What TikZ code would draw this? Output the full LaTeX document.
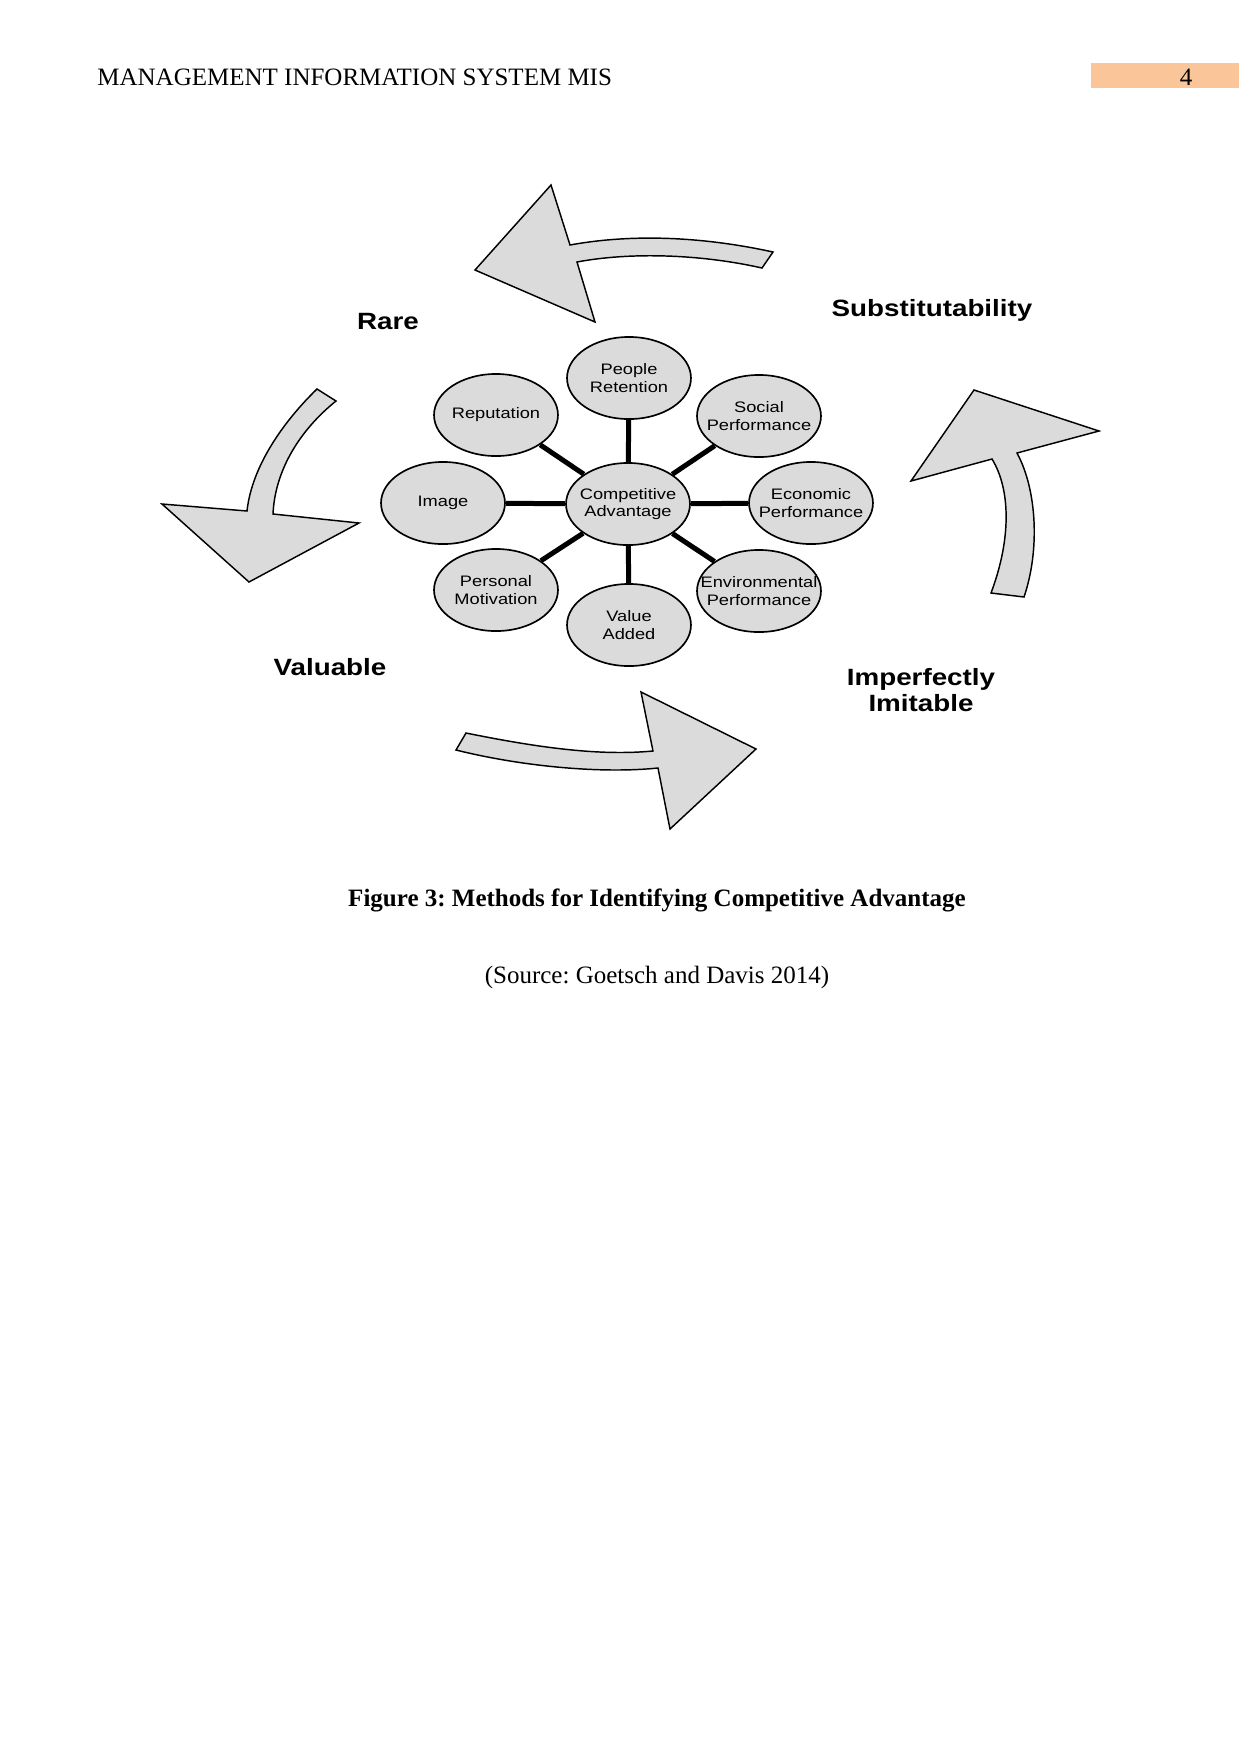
\documentclass[tikz,border=0pt]{standalone}
\usepackage{fontspec}
\setmainfont{Liberation Serif}
\newfontfamily\ellfont[FakeStretch=1.2]{Liberation Sans}
\newfontfamily\lblfont[FakeStretch=1.18]{Liberation Sans}
\usetikzlibrary{shapes.geometric}
\definecolor{shapegray}{RGB}{219,219,219}
\definecolor{peach}{RGB}{250,197,152}
\frenchspacing
\begin{document}
\begin{tikzpicture}[x=0.48pt,y=-0.48pt,
  bubble/.style={ellipse, draw=black, line width=0.8pt, fill=shapegray,
    minimum width=59.5pt, minimum height=39.4pt, inner ysep=0pt, inner xsep=-12pt,
    align=center, font=\ellfont\fontsize{7.3}{8.4}\selectfont},
  spoke/.style={line width=2.4pt, draw=black},
  bigarrow/.style={draw=black, line width=0.7pt, fill=shapegray, line join=miter},
  factor/.style={font=\lblfont\bfseries\fontsize{11.3}{12.5}\selectfont, align=center, inner sep=0pt},
  pagetext/.style={font=\fontsize{12}{14}\selectfont, inner sep=0pt}]
\useasboundingbox[fill=white] (0,0) rectangle (1241,1754);

% header
\fill[peach] (1091,63) rectangle (1239,88);
\node[pagetext, anchor=base west] (header) at (97,85) {MANAGEMENT INFORMATION SYSTEM MIS};
\node[pagetext, anchor=base] (pagenum) at (1186,85) {4};

% arrows
\draw[bigarrow] (773,252) .. controls (700,236) and (630,234) .. (570,245)
  -- (551,185) -- (475,270) -- (595,322) -- (577,262)
  .. controls (630,252) and (700,254) .. (762,268) -- cycle;
\draw[bigarrow] (991,593) .. controls (1011,540) and (1011,490) .. (992,459)
  -- (911,481) -- (974,390) -- (1099,431) -- (1017,453)
  .. controls (1037,490) and (1040,550) .. (1024,597) -- cycle;
\draw[bigarrow] (466,733) .. controls (540,748) and (600,756) .. (653,751)
  -- (641,692) -- (756,749) -- (670,829) -- (658,768)
  .. controls (600,774) and (520,766) .. (456,750) -- cycle;
\draw[bigarrow] (317,389) .. controls (285,420) and (252,465) .. (247,511)
  -- (162,504) -- (249,582) -- (359,523) -- (273,514)
  .. controls (275,470) and (300,430) .. (336,401) -- cycle;

% factor labels
\node[factor, anchor=base] (rare) at (388,329) {Rare};
\node[factor, anchor=base] (subst) at (932,316) {Substitutability};
\node[factor, anchor=base] (valuable) at (330,675) {Valuable};
\node[factor, anchor=center] (imit) at (921,690) {Imperfectly\\Imitable};

% bubbles
\node[bubble] (ca) at (628,504) {Competitive\\Advantage};
\node[bubble] (pr) at (629,378) {People\\Retention};
\node[bubble] (sp) at (759,416) {Social\\Performance};
\node[bubble] (ep) at (811,503) {Economic\\Performance};
\node[bubble] (env) at (759,591) {Environmental\\Performance};
\node[bubble] (va) at (629,625) {Value\\Added};
\node[bubble] (pm) at (496,590) {Personal\\Motivation};
\node[bubble] (im) at (443,503) {Image};
\node[bubble] (rep) at (496,415) {Reputation};

\foreach \n in {pr,sp,ep,env,va,pm,im,rep}
  \draw[spoke] (ca) -- (\n);

% caption
\node[pagetext, anchor=base, font=\bfseries\fontsize{12}{14}\selectfont] (caption) at (657,906)
  {Figure 3: Methods for Identifying Competitive Advantage};
\node[pagetext, anchor=base] (source) at (657,983) {(Source: Goetsch and Davis 2014)};
\end{tikzpicture}
\end{document}
